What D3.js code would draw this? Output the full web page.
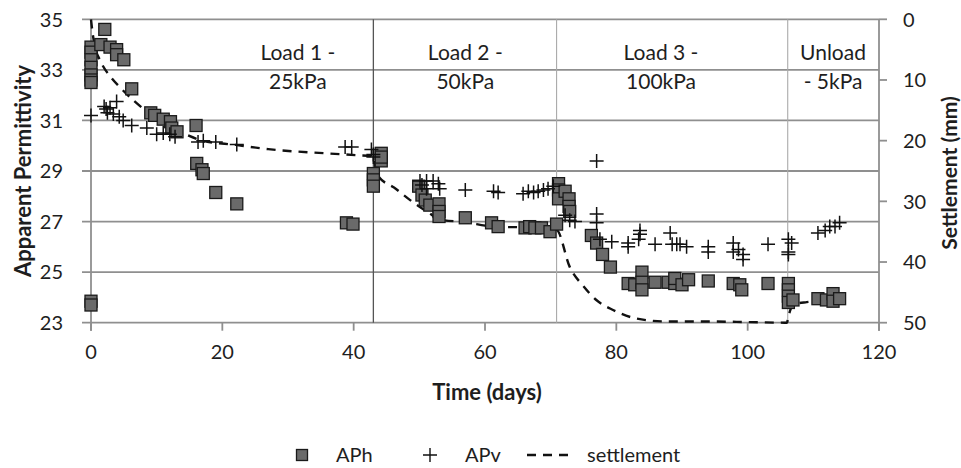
<!DOCTYPE html>
<html><head><meta charset="utf-8">
<script src="https://cdnjs.cloudflare.com/ajax/libs/d3/7.8.5/d3.min.js"></script>
<style>body{margin:0;background:#fff}svg{display:block;font-family:Lato,"Open Sans",sans-serif}</style>
</head><body><svg id="c" width="961" height="468"></svg>
<script>
// ---- data ----
const xTicks = [0, 20, 40, 60, 80, 100, 120];
const yTicks = [23, 25, 27, 29, 31, 33, 35];
const y2Ticks = [0, 10, 20, 30, 40, 50];
const phaseLines = [43.0, 70.9, 106.1];
const phaseLabels = [["Load 1 -", "25kPa"], ["Load 2 -", "50kPa"], ["Load 3 -", "100kPa"], ["Unload", "- 5kPa"]];
const phaseLabelDay = [31.5, 57, 86.8, 113];

const aphDay = [0,0,0,0,0,0,0,0,0,1.5,2.1,2.9,3.9,3.9,5.0,6.2,9.1,9.7,11.0,12.1,12.3,13.1,16.0,16.1,16.9,17.1,19.0,22.2,
  38.9,39.9,43.0,43.0,43.0,44.2,44.2,44.2,49.9,50.4,50.9,51.6,53.0,53.0,53.0,57.0,61.0,62.0,66.1,66.8,67.6,68.6,69.9,70.9,
  71.2,71.2,71.2,72.2,72.8,72.8,72.9,76.2,77.0,77.9,79.1,81.8,82.8,83.9,83.9,83.9,85.9,87.9,88.9,88.9,90.0,91.0,94.0,97.8,
  98.8,99.1,103.1,106.2,106.2,106.2,106.2,106.9,110.7,112.0,113.0,113.0,114.0];
const aphVal = [33.9,33.7,33.4,33.1,32.8,32.6,32.5,23.85,23.7,34.0,34.6,33.9,33.8,33.6,33.4,32.25,31.3,31.2,31.05,30.95,30.7,30.55,30.8,29.3,29.05,28.9,28.15,27.7,
  26.95,26.9,28.9,28.65,28.4,29.7,29.4,29.55,28.4,28.05,27.85,27.65,27.7,27.4,27.2,27.15,26.95,26.8,26.75,26.8,26.75,26.75,26.6,26.9,
  28.5,28.25,27.9,28.2,27.9,27.6,27.4,26.45,26.15,25.7,25.2,24.55,24.5,25.0,24.6,24.3,24.6,24.6,24.55,24.75,24.5,24.7,24.65,24.55,
  24.5,24.3,24.55,24.55,24.3,24.05,23.8,23.9,23.95,23.9,24.15,23.85,23.95];

const apvDay = [0,2.0,2.3,2.5,2.9,3.4,3.9,4.3,4.9,6.2,8.5,10.0,11.0,12.0,12.8,16.3,17.1,19.0,22.2,
  38.7,39.7,42.7,43.0,43.0,50.1,50.4,51.1,51.1,52.1,52.9,53.1,57.0,61.3,62.0,65.8,66.6,67.4,68.1,68.9,69.6,70.4,
  72.2,72.9,73.7,77.0,77.0,77.0,77.5,79.3,81.8,81.8,83.6,83.6,83.4,85.9,88.2,88.5,89.2,89.7,90.7,94.0,94.0,97.8,97.8,
  98.6,99.3,99.3,103.1,106.2,106.7,106.2,106.2,110.7,111.8,112.5,113.3,114.0];
const apvVal = [31.2,31.55,31.45,31.3,31.5,31.25,31.75,31.15,31.0,30.8,30.7,30.45,30.5,30.45,30.35,30.15,30.2,30.15,30.05,
  29.95,29.95,29.85,29.65,29.55,28.6,28.45,28.6,28.3,28.6,28.5,28.3,28.25,28.2,28.15,28.1,28.2,28.15,28.2,28.25,28.3,28.4,
  27.25,27.05,27.0,29.4,27.3,26.95,26.3,26.2,26.15,26.0,26.65,26.5,26.3,26.1,26.55,26.1,26.1,26.1,26.0,26.0,25.8,26.15,25.8,
  25.9,25.7,25.5,26.1,26.3,26.15,25.8,25.7,26.55,26.65,26.8,26.8,26.95];

const setDay = [0,0.1,0.5,1.5,3,4.5,6.5,8.5,11.5,14.5,17,22,27,36,40.5,43,43.5,46.5,48.6,51.6,53.1,56.7,61.8,66.8,70.9,
  72.9,75,77,79.5,83,87.7,93.8,100,106,106.1,107,109,111,114];
const setVal = [0,1,4,7,9.5,11.3,13.4,15.2,17.3,19,20,20.7,21.4,22.1,22.4,22.6,25.5,28,29.8,32,33,33.4,34.2,34.3,34.7,
  40.8,44,46.3,47.9,49.3,49.8,49.8,49.9,50,49.5,47,46.6,46.4,46.2];

// ---- layout ----
const L = 91, R = 879, T = 19.3, B = 322.7;
const svg = d3.select("#c");
const x = d3.scaleLinear().domain([0, 120]).range([L, R]);
const y = d3.scaleLinear().domain([23, 35]).range([B, T]);
const y2 = d3.scaleLinear().domain([0, 50]).range([T, B]);
const gridC = "#8f8f8f";
const fs = 20;
const txtC = "#1e1e1e";

// horizontal grid (extends left as tick)
svg.append("g").selectAll("line").data(yTicks).join("line")
  .attr("x1", L - 9).attr("x2", R).attr("y1", d => y(d)).attr("y2", d => y(d))
  .attr("stroke", gridC).attr("stroke-width", 1.8);
// phase vertical lines
svg.append("g").selectAll("line").data(phaseLines).join("line")
  .attr("x1", d => x(d)).attr("x2", d => x(d)).attr("y1", T).attr("y2", B)
  .attr("stroke", (d, i) => i === 0 ? "#555" : "#aaa").attr("stroke-width", (d, i) => i === 0 ? 1.3 : 1.1);

// left axis line
svg.append("line").attr("x1", L).attr("x2", L).attr("y1", T).attr("y2", B + 8).attr("stroke", gridC).attr("stroke-width", 1.8);
// right axis line
svg.append("line").attr("x1", R).attr("x2", R).attr("y1", T).attr("y2", B + 8).attr("stroke", gridC).attr("stroke-width", 1.8);
// bottom ticks
svg.append("g").selectAll("line").data(xTicks).join("line")
  .attr("x1", d => x(d)).attr("x2", d => x(d)).attr("y1", B).attr("y2", B + 8)
  .attr("stroke", gridC).attr("stroke-width", 1.8);
// right ticks
svg.append("g").selectAll("line").data(y2Ticks).join("line")
  .attr("x1", R).attr("x2", R + 8).attr("y1", d => y2(d)).attr("y2", d => y2(d))
  .attr("stroke", gridC).attr("stroke-width", 1.8);

// tick labels
svg.append("g").selectAll("text").data(yTicks).join("text")
  .attr("x", L - 28).attr("y", d => y(d)).attr("dy", "0.36em").attr("text-anchor", "end")
  .attr("font-size", fs).attr("fill", txtC).text(d => d);
svg.append("g").selectAll("text").data(y2Ticks).join("text")
  .attr("x", R + 24).attr("y", d => y2(d)).attr("dy", "0.36em").attr("text-anchor", "start")
  .attr("font-size", fs).attr("fill", txtC).text(d => d);
svg.append("g").selectAll("text").data(xTicks).join("text")
  .attr("x", d => x(d)).attr("y", 352).attr("dy", "0.36em").attr("text-anchor", "middle")
  .attr("font-size", fs).attr("fill", txtC).text(d => d);

// axis titles
svg.append("text").attr("transform", `translate(23,${(T + B) / 2}) rotate(-90)`).attr("text-anchor", "middle")
  .attr("dy", "0.36em").attr("font-size", 22).attr("font-weight", "bold").attr("fill", txtC).text("Apparent Permittivity");
svg.append("text").attr("transform", `translate(949,${(T + B) / 2 + 2}) rotate(-90)`).attr("text-anchor", "middle")
  .attr("dy", "0.36em").attr("font-size", 21).attr("font-weight", "bold").attr("fill", txtC).text("Settlement (mm)");
svg.append("text").attr("x", 487).attr("y", 392).attr("dy", "0.36em").attr("text-anchor", "middle")
  .attr("font-size", 22).attr("font-weight", "bold").attr("fill", txtC).text("Time (days)");

// phase labels
const pl = svg.append("g");
phaseLabels.forEach((lab, i) => {
  pl.append("text").attr("x", x(phaseLabelDay[i])).attr("y", 60).attr("text-anchor", "middle")
    .attr("font-size", 21).attr("fill", txtC).text(lab[0]);
  pl.append("text").attr("x", x(phaseLabelDay[i])).attr("y", 89).attr("text-anchor", "middle")
    .attr("font-size", 21).attr("fill", txtC).text(lab[1]);
});

// settlement dashed line
const setData = setDay.map((d, i) => [d, setVal[i]]);
svg.append("path").datum(setData)
  .attr("d", d3.line().x(d => x(d[0])).y(d => y2(d[1])).curve(d3.curveMonotoneX))
  .attr("fill", "none").attr("stroke", "#111").attr("stroke-width", 2.4).attr("stroke-dasharray", "9,7");

// APh squares
const sq = 12;
svg.append("g").selectAll("rect").data(aphDay.map((d, i) => [d, aphVal[i]])).join("rect")
  .attr("x", d => x(d[0]) - sq / 2).attr("y", d => y(d[1]) - sq / 2).attr("width", sq).attr("height", sq)
  .attr("fill", "#6a6a6a").attr("stroke", "#1a1a1a").attr("stroke-width", 1.3);

// APv crosses
const cs = 7;
const cross = svg.append("g").attr("stroke", "#111").attr("stroke-width", 1.5);
apvDay.forEach((d, i) => {
  const cx = x(d), cy = y(apvVal[i]);
  cross.append("path").attr("d", `M${cx - cs},${cy}H${cx + cs}M${cx},${cy - cs}V${cy + cs}`);
});

// legend
const ly = 455;
const lg = svg.append("g");
lg.append("rect").attr("x", 302 - 5.5).attr("y", ly - 5.5).attr("width", 11).attr("height", 11)
  .attr("fill", "#6a6a6a").attr("stroke", "#1a1a1a").attr("stroke-width", 1.3);
lg.append("text").attr("x", 336).attr("y", ly).attr("dy", "0.36em").attr("font-size", fs).attr("fill", txtC).text("APh");
lg.append("path").attr("d", `M${430 - cs},${ly}H${430 + cs}M430,${ly - cs}V${ly + cs}`).attr("stroke", "#111").attr("stroke-width", 1.4);
lg.append("text").attr("x", 465).attr("y", ly).attr("dy", "0.36em").attr("font-size", fs).attr("fill", txtC).text("APv");
lg.append("line").attr("x1", 527).attr("x2", 575).attr("y1", ly).attr("y2", ly)
  .attr("stroke", "#111").attr("stroke-width", 2.4).attr("stroke-dasharray", "9,7");
lg.append("text").attr("x", 587).attr("y", ly).attr("dy", "0.36em").attr("font-size", fs).attr("fill", txtC).text("settlement");
</script></body></html>
